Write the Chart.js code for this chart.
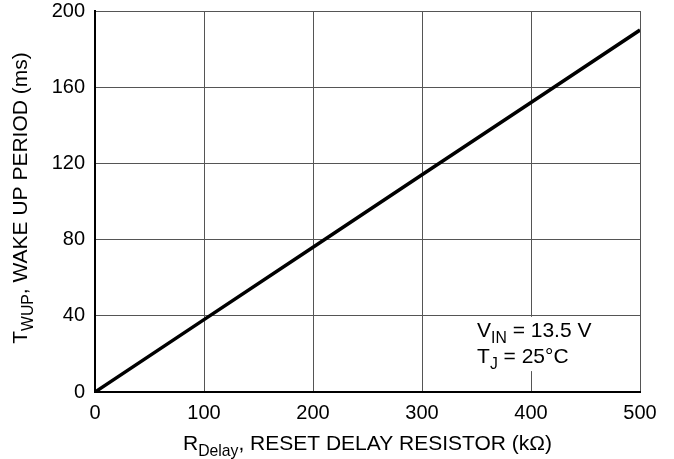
<!DOCTYPE html>
<html>
<head>
<meta charset="utf-8">
<script src="https://cdn.jsdelivr.net/npm/chart.js@4.4.0/dist/chart.umd.min.js"></script>
<style>
  html, body { margin: 0; padding: 0; background: #fff; }
  #wrap { width: 674px; height: 459px; }
</style>
</head>
<body>
<div id="wrap"><canvas id="grafica" width="674" height="459"></canvas></div>
<script>
// valores
const resistencia = [0, 100, 200, 300, 400, 500];   // kOhm
const periodo = [0, 38, 76, 114, 152, 190];          // ms
const ticksX = [0, 100, 200, 300, 400, 500];
const ticksY = [0, 40, 80, 120, 160, 200];

const fuente = "'Liberation Sans', Arial, Helvetica, sans-serif";
const tamTicks = 20;
const tamTexto = 21;

// dibuja texto con partes en subindice
function textoSub(ctx, partes, x, y, tam) {
    let cx = x;
    partes.forEach(([txt, sub]) => {
        ctx.font = (sub ? tam * 0.75 : tam) + "px " + fuente;
        ctx.fillText(txt, cx, y + (sub ? tam * 0.3 : 0));
        cx += ctx.measureText(txt).width;
    });
    return cx - x;
}
function anchoSub(ctx, partes, tam) {
    let w = 0;
    partes.forEach(([txt, sub]) => {
        ctx.font = (sub ? tam * 0.75 : tam) + "px " + fuente;
        w += ctx.measureText(txt).width;
    });
    return w;
}

const extras = {
    id: "extras",
    afterDraw(chart) {
        const ctx = chart.ctx;
        const area = chart.chartArea;
        const sx = chart.scales.x, sy = chart.scales.y;
        ctx.save();
        ctx.fillStyle = "#000";
        ctx.textBaseline = "alphabetic";

        // titulo eje x
        const tx = [["R", false], ["Delay", true], [", RESET DELAY RESISTOR (k\u03A9)", false]];
        const wx = anchoSub(ctx, tx, tamTexto);
        textoSub(ctx, tx, (area.left + area.right) / 2 - wx / 2, 450, tamTexto);

        // titulo eje y
        const ty = [["T", false], ["WUP", true], [", WAKE UP PERIOD (ms)", false]];
        const wy = anchoSub(ctx, ty, tamTexto);
        ctx.translate(27, 198);
        ctx.rotate(-Math.PI / 2);
        textoSub(ctx, ty, -wy / 2, 0, tamTexto);
        ctx.restore();

        // recuadro de condiciones
        ctx.save();
        const x0 = sx.getPixelForValue(345), x1 = sx.getPixelForValue(488);
        const y0 = sy.getPixelForValue(40), y1 = sy.getPixelForValue(11.5);
        ctx.fillStyle = "#fff";
        ctx.fillRect(x0, y0 + 1, x1 - x0, y1 - y0);
        ctx.fillStyle = "#000";
        textoSub(ctx, [["V", false], ["IN", true], [" = 13.5 V", false]], x0 + 6, y0 + 21, tamTexto);
        textoSub(ctx, [["T", false], ["J", true], [" = 25\u00B0C", false]], x0 + 6, y0 + 47, tamTexto);
        ctx.restore();
    }
};

const ctx = document.getElementById("grafica").getContext("2d");
new Chart(ctx, {
    type: "scatter",
    data: {
        datasets: [{
            data: resistencia.map((r, i) => ({ x: r, y: periodo[i] })),
            showLine: true,
            borderColor: "#000",
            borderWidth: 3.5,
            pointRadius: 0,
            tension: 0
        }]
    },
    options: {
        responsive: false,
        animation: false,
        layout: { padding: { left: 0, top: 11, right: 34, bottom: 0 } },
        plugins: { legend: { display: false }, tooltip: { enabled: false } },
        scales: {
            x: {
                type: "linear", min: 0, max: 500,
                afterBuildTicks: (s) => { s.ticks = ticksX.map(v => ({ value: v })); },
                afterFit: (s) => { s.height = 67; s.paddingLeft = 0; s.paddingRight = 0; },
                grid: { color: "#555", lineWidth: 1, drawTicks: false },
                border: { color: "#000", width: 2 },
                ticks: { color: "#000", font: { family: fuente, size: tamTicks }, padding: 9 }
            },
            y: {
                type: "linear", min: 0, max: 200,
                afterBuildTicks: (s) => { s.ticks = ticksY.map(v => ({ value: v })); },
                afterFit: (s) => { s.width = 95; s.paddingTop = 0; s.paddingBottom = 0; },
                grid: { color: "#555", lineWidth: 1, drawTicks: false },
                border: { color: "#000", width: 2 },
                ticks: { color: "#000", font: { family: fuente, size: tamTicks }, padding: 10 }
            }
        }
    },
    plugins: [extras]
});
</script>
</body>
</html>
